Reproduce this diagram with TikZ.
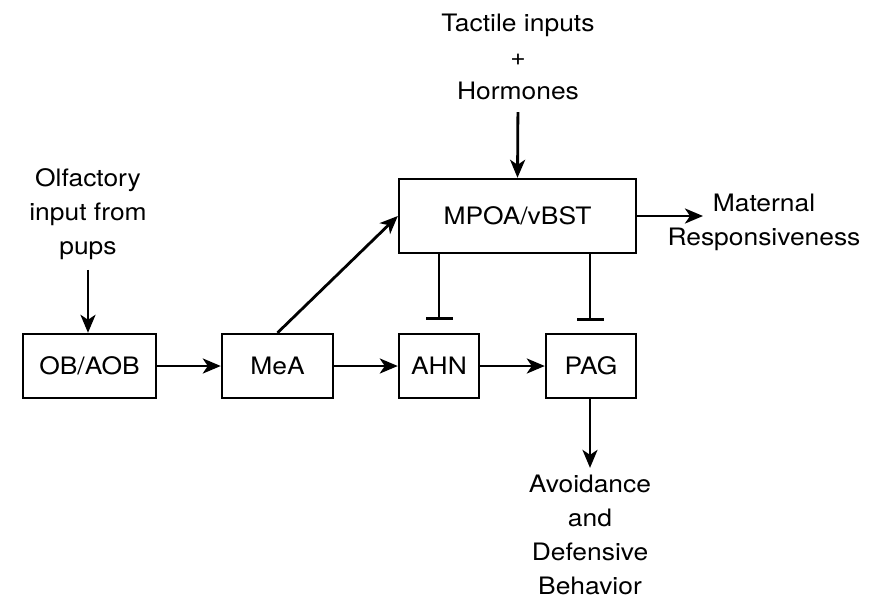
\documentclass[tikz,border=0pt]{standalone}
\usepackage{fontspec}
\setmainfont{TeX Gyre Heros}[FakeStretch=1.1]
\usetikzlibrary{arrows.meta}
\begin{document}
\begin{tikzpicture}[x=1pt,y=-1pt,
  font=\fontsize{24}{34}\selectfont,
  box/.style={draw, line width=2.4pt, inner sep=0pt, minimum height=64pt},
  lbl/.style={align=center, inner sep=0pt},
  arr/.style={line width=2.8pt, -{Stealth[length=18pt,width=15pt,inset=5pt]}},
  inh/.style={line width=2.6pt, -{Bar[width=27pt,line width=2.6pt]}}]
\useasboundingbox (0,0) rectangle (881,600);
\node[box, minimum width=133pt] (ob) at (89.5,366) {OB/AOB};
\node[box, minimum width=111pt] (mea) at (277.5,366) {MeA};
\node[box, minimum width=80pt] (ahn) at (439,366) {AHN};
\node[box, minimum width=90pt] (pag) at (591,366) {PAG};
\node[box, minimum width=237pt, minimum height=74pt] (mpoa) at (517.5,216) {MPOA/vBST};
\node[lbl] (tact) at (518,57) {Tactile inputs\\+\\Hormones};
\node[lbl] (olf) at (88,214) {Olfactory\\input from\\pups};
\node[lbl] (mat) at (764,222) {Maternal\\Responsiveness};
\node[lbl] (avoid) at (590,535) {Avoidance\\and\\Defensive\\Behavior};
\coordinate (matin) at (703,216);
\draw[arr, shorten <=10pt] (olf.south) -- (ob.north -| olf.south);
\draw[arr] (ob) -- (mea);
\draw[arr] (mea) -- (ahn);
\draw[arr] (ahn) -- (pag);
\draw[arr] (mea.north) -- (mpoa.west);
\draw[arr, shorten <=12pt] (tact.south) -- (mpoa.north);
\draw[arr] (mpoa.east) -- (matin);
\draw[inh, shorten >=13pt] (mpoa.south -| ahn.north) -- (ahn.north);
\draw[inh, shorten >=13pt] (mpoa.south -| 590,0) -- (590,334);
\draw[arr, shorten >=7pt] (pag.south -| 590,0) -- (avoid.north -| 590,0);
\end{tikzpicture}
\end{document}
